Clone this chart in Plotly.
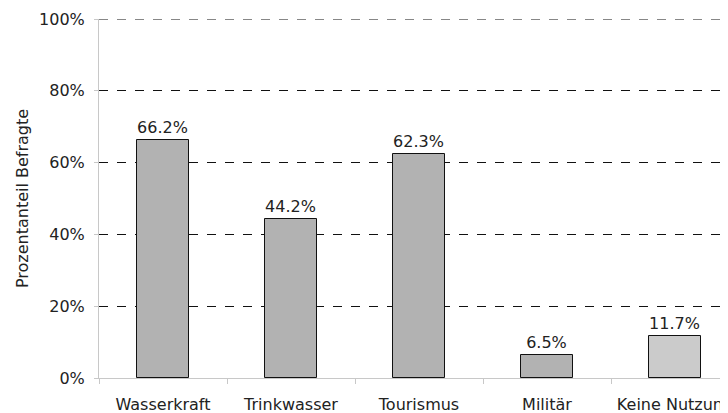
import plotly.graph_objects as go

categories = ["Wasserkraft", "Trinkwasser", "Tourismus", "Militär", "Keine Nutzung"]
values = [66.2, 44.2, 62.3, 6.5, 11.7]
bar_colors = ["#b2b2b2", "#b2b2b2", "#b2b2b2", "#b2b2b2", "#cbcbcb"]
y_ticks = [0, 20, 40, 60, 80, 100]
y_tick_text = ["0%", "20%", "40%", "60%", "80%", "100%"]

FONT = "DejaVu Sans, Verdana, sans-serif"

# the page body has an 8px margin, so the figure is shrunk by that much
# and the plot margins are moved in so that the plot lands where it should
PAGE_PAD = 8
PLOT_LEFT = 99

fig = go.Figure()
fig.add_trace(go.Bar(
    x=categories, y=values,
    width=0.4,
    marker=dict(color=bar_colors, line=dict(color="#111111", width=1)),
    texttemplate="%{y:.1f}%",
    textposition="outside",
    textfont=dict(family=FONT, size=16, color="#222222"),
    cliponaxis=False,
))

# plotly leaves out the gridline sitting on the top edge, draw it by hand
fig.add_shape(
    type="line", xref="paper", x0=0, x1=1, yref="y", y0=y_ticks[-1], y1=y_ticks[-1],
    line=dict(color="#111111", width=1, dash="dash"), layer="below",
)

fig.update_layout(
    width=728 - PAGE_PAD, height=413 - PAGE_PAD,
    margin=dict(l=PLOT_LEFT - PAGE_PAD, r=0, t=19 - PAGE_PAD, b=35),
    paper_bgcolor="white", plot_bgcolor="white",
    font=dict(family=FONT, size=16, color="#222222"),
    showlegend=False,
    bargap=0,
    xaxis=dict(
        type="category",
        automargin=False,
        # last category is cut off by the right edge like in the original
        range=[-0.5, -0.5 + (728 - PLOT_LEFT) / 128],
        tickson="boundaries",
        ticks="outside", ticklen=5, tickcolor="#c8c8c8",
        showline=True, linecolor="#c8c8c8", linewidth=1,
        showgrid=False,
        tickfont=dict(size=16),
        ticklabelstandoff=12,
    ),
    yaxis=dict(
        automargin=False,
        range=[0, 100],
        tickmode="array",
        tickvals=y_ticks,
        ticktext=y_tick_text,
        ticks="outside", ticklen=4, tickcolor="#c8c8c8",
        ticklabelstandoff=6,
        showline=True, linecolor="#c8c8c8", linewidth=1,
        showgrid=True, gridcolor="#111111", gridwidth=1, griddash="dash",
        zeroline=True, zerolinecolor="#c8c8c8", zerolinewidth=1,
        title=dict(text="Prozentanteil Befragte", font=dict(size=16), standoff=6),
        tickfont=dict(size=16),
    ),
)

fig.write_html("out.html")
